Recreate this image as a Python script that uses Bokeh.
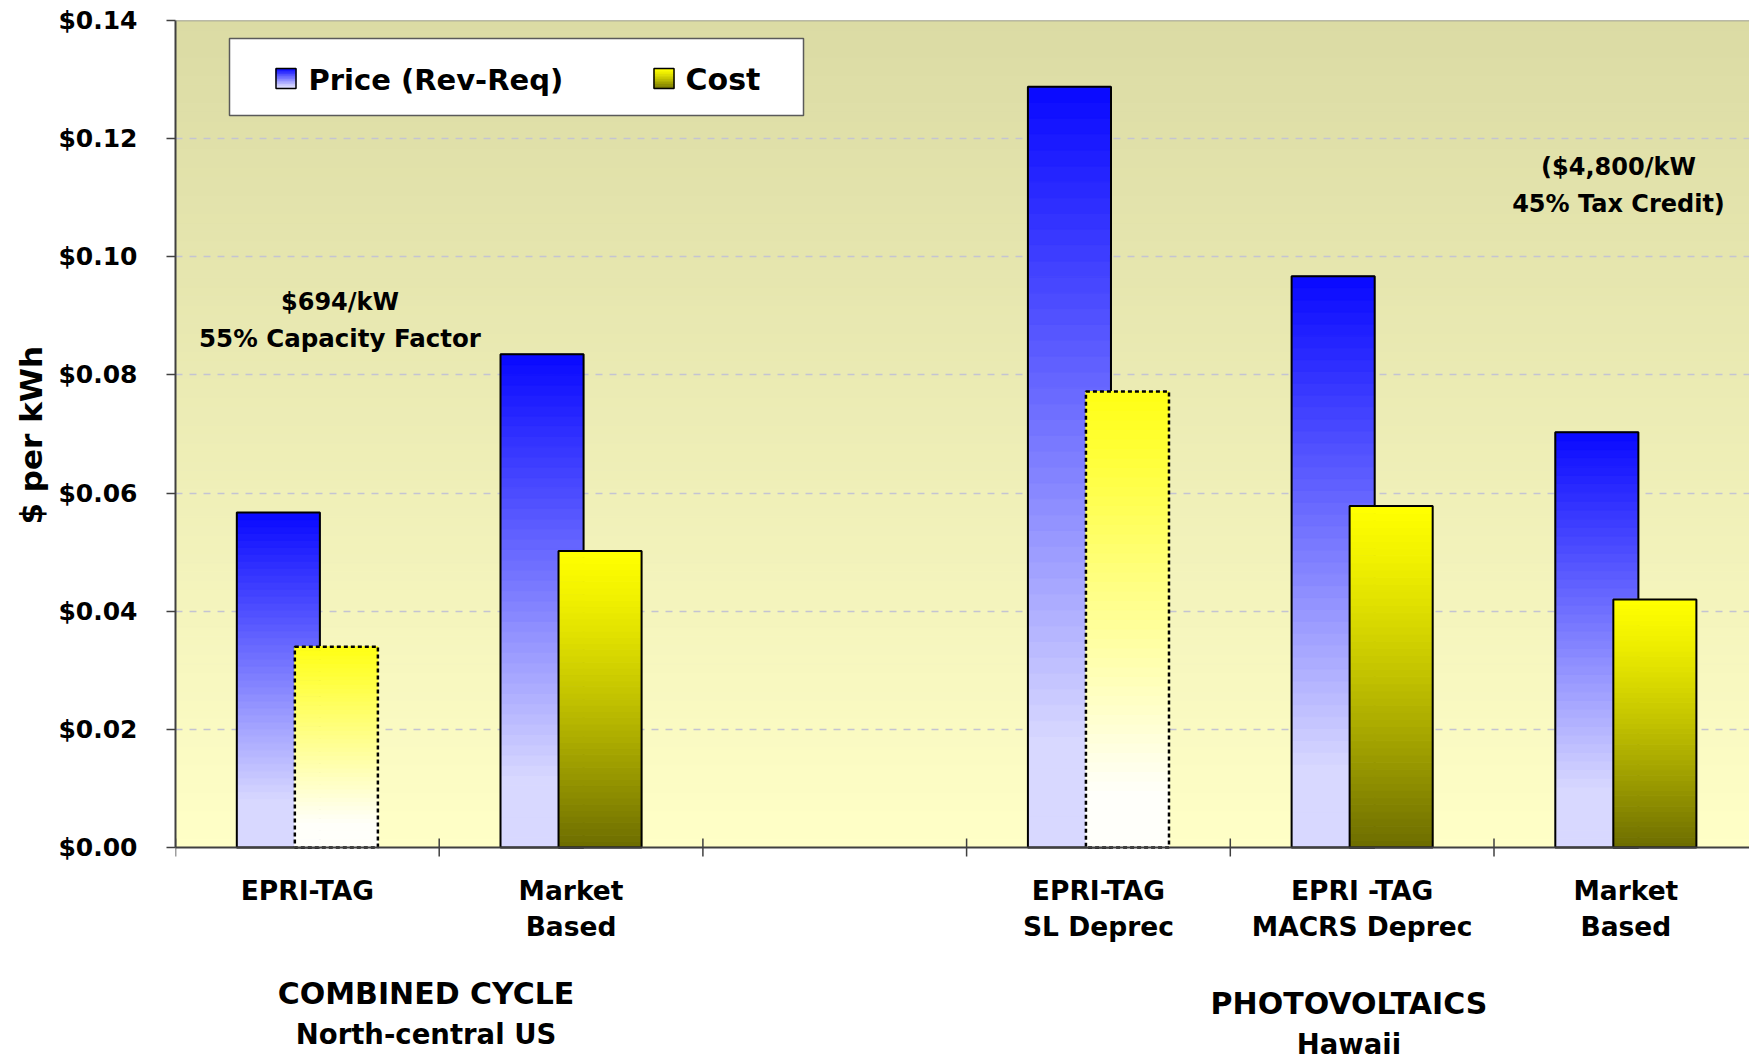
import numpy as np
from bokeh.plotting import figure
from bokeh.models import (Range1d, FixedTicker, PrintfTickFormatter,
                          ColumnDataSource, Label, Span, Title)
from bokeh.embed import file_html
from bokeh.resources import INLINE

# ---------------- data ----------------
cat_line1 = ["EPRI-TAG", "Market", "", "EPRI-TAG", "EPRI -TAG", "Market"]
cat_line2 = ["", "Based", "", "SL Deprec", "MACRS Deprec", "Based"]
price = [0.0567, 0.0835, None, 0.1288, 0.0967, 0.0703]   # Price (Rev-Req), $/kWh
cost = [0.0340, 0.0502, None, 0.0772, 0.0578, 0.0420]    # Cost, $/kWh
cost_kind = ["light", "solid", None, "light", "solid", "solid"]

group_title = ["COMBINED CYCLE", "PHOTOVOLTAICS"]
group_sub = ["North-central US", "Hawaii"]
group_span = [(0, 2), (3, 6)]

note_cc = ["$694/kW", "55% Capacity Factor"]
note_pv = ["($4,800/kW", "45% Tax Credit)"]

y_ticks = [0.0, 0.02, 0.04, 0.06, 0.08, 0.10, 0.12, 0.14]

# ---------------- geometry ----------------
W, H = 1749, 1055
FL, FT, FB = 175, 20, 847          # plot-area left / top / baseline (px)
CAT_PX = 263.7                      # px per category
Y_MAX = 0.14
PX_PER_Y = (FB - FT) / Y_MAX
Y_MIN = -(H - FB) / PX_PER_Y        # room under the baseline for the labels
X_END = (W - FL) / CAT_PX
N_CAT = len(cat_line1)

BAR_W = 0.315
OFF = 0.11


def px_x(px):
    return (px - FL) / CAT_PX


def px_y(py):
    return (FB - py) / PX_PER_Y


def hexc(rgb):
    return "#%02x%02x%02x" % tuple(int(round(c)) for c in rgb)


def ramp(top, bot, t, flat=0.0, gamma=1.0):
    """t = 0 at top of the bar, 1 at the bottom."""
    u = min(t / (1.0 - flat), 1.0)
    u = u ** gamma
    return hexc([a + (b - a) * u for a, b in zip(top, bot)])


BLUE = dict(top=(8, 8, 255), bot=(216, 216, 255), flat=0.14, gamma=1.0)
OLIVE = dict(top=(255, 255, 0), bot=(108, 108, 0), flat=0.0, gamma=1.25)
LIGHT = dict(top=(255, 255, 20), bot=(255, 255, 250), flat=0.12, gamma=1.0)


def slices(x0, x1, y0, y1, style, n=48):
    out = {"left": [], "right": [], "bottom": [], "top": [], "color": []}
    edges = np.linspace(y0, y1, n + 1)
    for i in range(n):
        t = 1.0 - (i + 0.5) / n
        out["left"].append(x0)
        out["right"].append(x1)
        out["bottom"].append(edges[i])
        out["top"].append(edges[i + 1])
        out["color"].append(ramp(style["top"], style["bot"], t,
                                 style["flat"], style["gamma"]))
    return out


def merge(dst, src):
    for k in dst:
        dst[k].extend(src[k])


def empty():
    return {"left": [], "right": [], "bottom": [], "top": [], "color": []}


# ---------------- figure ----------------
p = figure(width=W, height=H, output_backend="svg", toolbar_location=None,
           x_range=Range1d(0, X_END), y_range=Range1d(Y_MIN, Y_MAX),
           x_axis_location=None,
           min_border_left=FL, min_border_right=0, min_border_top=FT,
           min_border_bottom=0)
p.background_fill_color = "white"
p.border_fill_color = "white"
p.outline_line_color = None

# plot-area gradient background
bg = empty()
nb = 90
edges = np.linspace(0, Y_MAX, nb + 1)
for i in range(nb):
    t = 1.0 - (i + 0.5) / nb
    bg["left"].append(0)
    bg["right"].append(N_CAT)
    bg["bottom"].append(edges[i])
    bg["top"].append(edges[i + 1])
    bg["color"].append(ramp((219, 219, 164), (255, 255, 199), t))
p.quad(left="left", right="right", bottom="bottom", top="top",
       source=ColumnDataSource(bg), fill_color="color", line_color="color",
       line_width=1, level="image")

# grid
p.xgrid.visible = False
p.ygrid.ticker = FixedTicker(ticks=y_ticks[1:-1])
p.ygrid.grid_line_color = "#c4c4d2"
p.ygrid.grid_line_width = 1.5
p.ygrid.grid_line_dash = "7 7"

# bars
centers = np.arange(N_CAT) + 0.5
blue_fill, cost_fill = empty(), empty()
blue_box = {"left": [], "right": [], "top": []}
solid_box = {"left": [], "right": [], "top": []}
dash_box = {"left": [], "right": [], "top": []}
for c, pv, cv, kind in zip(centers, price, cost, cost_kind):
    if pv is not None:
        l, r = c - OFF - BAR_W / 2, c - OFF + BAR_W / 2
        merge(blue_fill, slices(l, r, 0, pv, BLUE))
        blue_box["left"].append(l); blue_box["right"].append(r); blue_box["top"].append(pv)
    if cv is not None:
        l, r = c + OFF - BAR_W / 2, c + OFF + BAR_W / 2
        merge(cost_fill, slices(l, r, 0, cv, LIGHT if kind == "light" else OLIVE))
        box = dash_box if kind == "light" else solid_box
        box["left"].append(l); box["right"].append(r); box["top"].append(cv)

p.quad(left="left", right="right", bottom="bottom", top="top",
       source=ColumnDataSource(blue_fill), fill_color="color",
       line_color="color", line_width=1)
p.quad(left="left", right="right", bottom=0, top="top",
       source=ColumnDataSource(blue_box), fill_alpha=0,
       line_color="black", line_width=2)
p.quad(left="left", right="right", bottom="bottom", top="top",
       source=ColumnDataSource(cost_fill), fill_color="color",
       line_color="color", line_width=1)
p.quad(left="left", right="right", bottom=0, top="top",
       source=ColumnDataSource(solid_box), fill_alpha=0,
       line_color="black", line_width=2)
p.quad(left="left", right="right", bottom=0, top="top",
       source=ColumnDataSource(dash_box), fill_alpha=0,
       line_color="black", line_width=2.5, line_dash="4 3")

# category axis: baseline, boundary ticks, plot-area top edge
p.add_layout(Span(location=0, dimension="width", line_color="#404040",
                  line_width=2))
p.add_layout(Span(location=Y_MAX, dimension="width", line_color="#8a8a8a",
                  line_width=1.5))
bounds = list(range(N_CAT + 1))
tick_half = 9 / PX_PER_Y
p.segment(x0=bounds, x1=bounds, y0=-tick_half, y1=tick_half,
          line_color="#404040", line_width=1.5)

# legend box with gradient swatches
lg_l, lg_r, lg_t, lg_b = px_x(229), px_x(803), px_y(38), px_y(115)
p.quad(left=[lg_l], right=[lg_r], bottom=[lg_b], top=[lg_t],
       fill_color="white", line_color="#5a5a5a", line_width=1.5)
sw_t, sw_b = px_y(68), px_y(88)
sw_fill = empty()
sw_box = {"left": [], "right": []}
for x0, style in ((275.5, BLUE), (653.5, OLIVE)):
    l, r = px_x(x0), px_x(x0 + 20)
    merge(sw_fill, slices(l, r, sw_b, sw_t, style, n=12))
    sw_box["left"].append(l); sw_box["right"].append(r)
p.quad(left="left", right="right", bottom="bottom", top="top",
       source=ColumnDataSource(sw_fill), fill_color="color",
       line_color="color", line_width=1)
p.quad(left="left", right="right", bottom=sw_b, top=sw_t,
       source=ColumnDataSource(sw_box), fill_alpha=0,
       line_color="black", line_width=1.5)

FONT = "DejaVu Sans"


def label(x, y, text, size, align="center"):
    if not text:
        return
    p.add_layout(Label(x=x, y=y, text=text, text_font=FONT,
                       text_font_style="bold", text_font_size=size,
                       text_align=align, text_baseline="middle",
                       text_color="black"))


label(px_x(308), px_y(79), "Price (Rev-Req)", "29px", "left")
label(px_x(685), px_y(79), "Cost", "30px", "left")

# notes
label(px_x(339.5), px_y(301), note_cc[0], "24px")
label(px_x(339.5), px_y(338), note_cc[1], "24.5px")
label(px_x(1618), px_y(166), note_pv[0], "24px")
label(px_x(1618), px_y(203), note_pv[1], "24px")

# category labels under the baseline
for c, t1, t2 in zip(centers, cat_line1, cat_line2):
    label(c, px_y(890), t1, "26.5px")
    label(c, px_y(926), t2, "26.5px")

# group labels
for (a, b), t, s, dy in zip(group_span, group_title, group_sub, (0, 10)):
    gx = (a + b) / 2 - 0.05
    label(gx, px_y(993 + dy), t, "30px")
    label(gx, px_y(1033 + dy), s, "27.5px")

# value axis
p.yaxis.bounds = (0, Y_MAX)
p.yaxis.ticker = FixedTicker(ticks=y_ticks)
p.yaxis.formatter = PrintfTickFormatter(format="$%.2f")
p.yaxis.major_tick_in = 0
p.yaxis.major_tick_out = 9
p.yaxis.minor_tick_line_color = None
p.yaxis.axis_line_color = "#404040"
p.yaxis.axis_line_width = 2
p.yaxis.major_tick_line_color = "#404040"
p.yaxis.major_tick_line_width = 1.5
p.yaxis.major_label_text_font = FONT
p.yaxis.major_label_text_font_style = "bold"
p.yaxis.major_label_text_font_size = "25px"
p.yaxis.major_label_text_color = "black"
p.yaxis.major_label_standoff = 29

# value-axis title, placed along the bounded part of the axis
p.add_layout(Title(text="$ per kWh", align="left", offset=H - 524,
                   vertical_align="bottom", standoff=13,
                   text_font=FONT, text_font_style="bold",
                   text_font_size="31px", text_color="black"), "left")

open("out.html", "w").write(file_html(p, INLINE))
